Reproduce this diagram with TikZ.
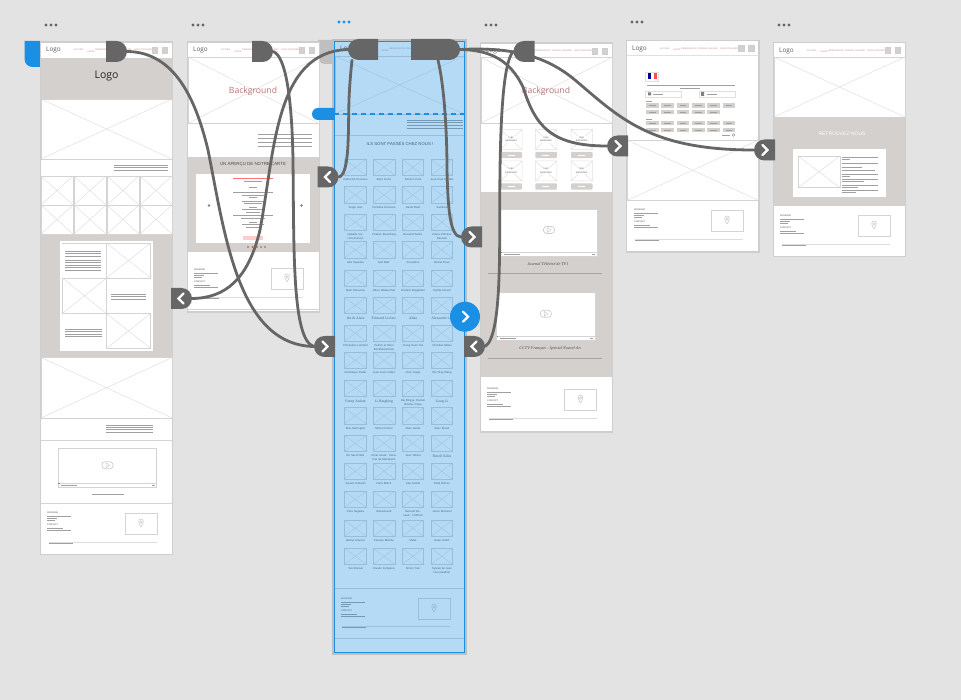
\documentclass[tikz,border=0pt]{standalone}
\usepackage{fontspec}
\setmainfont{Liberation Sans}
\newfontfamily\serf{Liberation Serif}
\newfontfamily\logof{Open Sans}
\usetikzlibrary{shapes.misc,calc}
\definecolor{bgc}{HTML}{E3E3E3}
\definecolor{bord}{HTML}{CECECE}
\definecolor{xc}{HTML}{D4D4D4}
\definecolor{sect}{HTML}{D3D0CD}
\definecolor{diag}{HTML}{E0E0E0}
\definecolor{hgray}{HTML}{666666}
\definecolor{sel}{HTML}{1A8FE3}
\definecolor{navc}{HTML}{C08A8A}
\definecolor{redt}{HTML}{B57474}
\definecolor{greekc}{HTML}{A0A0A0}
\tikzset{
  xl/.style={draw=xc,line width=.6pt},
  dl/.style={draw=diag,line width=.5pt},
  frameb/.style={fill=white,draw=bord,line width=1.5pt},
  handleR/.style={rounded rectangle,rounded rectangle left arc=none,fill=hgray,inner sep=0pt,minimum height=21pt,minimum width=#1},
  handleR/.default=19pt,
  handleL/.style={rounded rectangle,rounded rectangle right arc=none,fill=hgray,inner sep=0pt,minimum height=21pt,minimum width=#1},
  handleL/.default=19pt,
  conn/.style={draw=hgray,line width=2.8pt,line cap=round},
  chev/.style={draw=white,line width=2.2pt,line cap=round,line join=miter},
  grk/.style={draw=greekc,line width=.4pt},
  nm/.style={font=\fontsize{2.8}{3.4}\selectfont,text=black!65,align=center,text width=27pt,inner sep=0pt,anchor=north},
  navt/.style={font=\fontsize{2.2}{2.5}\selectfont,text=navc,inner sep=0pt,anchor=west},
  tinyt/.style={font=\fontsize{2.3}{2.6}\selectfont,text=black!70,inner sep=0pt,anchor=west}
}
% cross box
\newcommand{\xb}[4]{\draw[dl] (#1,#2)--(#3,#4) (#1,#4)--(#3,#2);\draw[xl] (#1,#2) rectangle (#3,#4);}
% greeked paragraph: x, y, width, lines, step
\newcommand{\grp}[5]{\foreach \gi in {1,...,#4}{\draw[grk] (#1,{#2+(\gi-1)*#5})--++(#3,0);}}
\newcommand{\tdots}[3]{\foreach \di in {-5,0,5}{\fill[#3] ({#1+\di},#2) circle (1.7pt);}}
% header: L R top bottom
\newcommand{\hdr}[4]{%
  \node[font=\logof\fontsize{6.4}{7}\selectfont,text=black!65,inner sep=0pt,anchor=west] at ({#1+5},{#3+8}) {Logo};
  \node[navt] at ({#1+33},{#3+8}) {ACCUEIL};
  \node[navt] at ({#1+46},{#3+9.5}) {CARTE};
  \node[navt] at ({#1+54},{#3+8}) {RÉSERVATION};
  \node[navt] at ({#1+71},{#3+8}) {PRESSE};
  \node[navt] at ({#1+81},{#3+8}) {GALERIE};
  \node[navt] at ({#1+93},{#3+8}) {NOUS TROUVER};
  \fill[sect,draw=bord,line width=.4pt] ({#2-20},{#3+5}) rectangle ({#2-14.5},{#3+11});
  \fill[sect,draw=bord,line width=.4pt] ({#2-10},{#3+5}) rectangle ({#2-4.5},{#3+11});
  \draw[draw=diag,line width=.8pt] (#1,#4)--(#2,#4);
}
% footer: addr x, addr y, map x, map y, line x, line y
\newcommand{\ftr}[6]{%
  \node[tinyt] at (#1,#2) {ADRESSE};
  \grp{#1}{#2+3}{24}{1}{0}\grp{#1}{#2+5.5}{10}{1}{0}\grp{#1}{#2+7.5}{8}{1}{0}
  \node[tinyt] at (#1,{#2+12}) {CONTACT};
  \grp{#1}{#2+15}{16}{1}{0}\grp{#1}{#2+17.5}{24}{1}{0}
  \draw[xl] (#3,#4) rectangle ({#3+32},{#4+21});
  \draw[draw=bord,line width=.6pt] ({#3+16},{#4+14}) .. controls ({#3+13},{#4+10}) and ({#3+13},{#4+6}) .. ({#3+16},{#4+6}) .. controls ({#3+19},{#4+6}) and ({#3+19},{#4+10}) .. ({#3+16},{#4+14});
  \draw[draw=bord,line width=.5pt] ({#3+16},{#4+9}) circle (1.2pt);
  \draw[draw=bord!70,line width=.9pt] (#5,#6)--++(108,0);
  \draw[greekc,line width=.3pt] (#5,{#6+1.6})--++(24,0);
}
% video: x1 y1 x2 y2
\newcommand{\vid}[4]{%
  \draw[fill=white,draw=xc,line width=.6pt] (#1,#2) rectangle (#3,#4);
  \draw[draw=xc,line width=.5pt] (#1,{#4-4})--(#3,{#4-4});
  \fill[red!70] (#1,{#4-4}) rectangle ({#1+1.2},{#4-3});
  \grp{#1+3}{#4-2}{16}{1}{0}
  \draw[grk] ({#3-5},{#4-2})--({#3-2},{#4-2});
  \draw[draw=bord,line width=.7pt,rounded corners=3pt] ({(#1+#3)/2-5.5},{(#2+#4)/2-6}) rectangle ({(#1+#3)/2+5.5},{(#2+#4)/2+1});
  \draw[draw=bord,line width=.5pt] ({(#1+#3)/2-1.5},{(#2+#4)/2-5}) -- ({(#1+#3)/2+2},{(#2+#4)/2-2.5}) -- ({(#1+#3)/2-1.5},{(#2+#4)/2}) -- cycle;
}
% grid row of frame 3
\newcommand{\grow}[5]{%
  \xb{344}{#1}{366.5}{#1+16.5}\xb{373}{#1}{395}{#1+16.5}\xb{402}{#1}{423.5}{#1+16.5}\xb{431}{#1}{452.5}{#1+16.5}
  \node[nm] at (355.5,{#1+19.5}) {#2};
  \node[nm] at (384,{#1+19.5}) {#3};
  \node[nm] at (413,{#1+19.5}) {#4};
  \node[nm] at (442,{#1+19.5}) {#5};
}
\newcommand{\srf}{\serf\fontsize{3.7}{4.2}\selectfont}
\newcommand{\chevR}[1]{\draw[chev] ([shift={(-2,-5)}]#1.center)--([shift={(3,0)}]#1.center)--([shift={(-2,5)}]#1.center);}
\newcommand{\chevL}[1]{\draw[chev] ([shift={(2,-5)}]#1.center)--([shift={(-3,0)}]#1.center)--([shift={(2,5)}]#1.center);}
\begin{document}
\begin{tikzpicture}[x=1pt,y=-1pt]
\useasboundingbox (0,0) rectangle (961,700);
\fill[bgc] (0,0) rectangle (961,700);
% three-dot menus
\tdots{51}{25}{black!60}\tdots{198}{25}{black!60}\tdots{344}{22}{sel}\tdots{491}{25}{black!60}\tdots{637}{22}{black!60}\tdots{784}{25}{black!60}
% tabs
\fill[sel] (40,41) -- (24.5,41) [rounded corners=8pt] -- (24.5,67) [sharp corners] -- (40,67) -- cycle;
\fill[black!25] (334,40) -- (318,40) [rounded corners=7pt] -- (318,64) [sharp corners] -- (334,64) -- cycle;

% ===== FRAME 1 =====
\draw[frameb] (40.5,42) rectangle (172.5,554.5);
\hdr{41}{172}{42}{58}
\fill[sect] (41,58) rectangle (172,99);
\node[font=\logof\fontsize{10.5}{12}\selectfont,text=black!85,inner sep=0pt] at (106.5,76) {Logo};
\xb{41}{99}{172}{159}
\grp{114}{165}{54}{3}{2.6}
\foreach \cx in {41,74,107,140}{\xb{\cx}{176}{\cx+32}{205}\xb{\cx}{205}{\cx+32}{234}}
\fill[sect] (41,235) rectangle (172,357);
\fill[white] (60,241) rectangle (152.7,351);
\draw[xl] (62,243)--(106,243);
\xb{106.5}{243}{150.7}{278}\xb{62.5}{278}{106.5}{313.5}\xb{106.5}{313.5}{150.7}{348.5}
\grp{65}{251}{36}{3}{2.5}\grp{65}{260}{36}{5}{2.5}
\grp{111}{294}{35}{3}{2.5}
\grp{65}{329}{37}{4}{2.5}
\xb{41}{357.5}{172}{418}
\draw[xl] (41,440.5)--(172,440.5) (41,503.3)--(172,503.3);
\grp{106}{425}{47}{4}{2.3}
\vid{58.3}{448.3}{156.7}{487.3}
\grp{92}{494}{32}{1}{0}
\ftr{47}{513}{125}{513}{49}{542}

% ===== FRAME 2 =====
\draw[frameb] (187.5,42) rectangle (319.5,312);
\hdr{188}{319}{42}{57}
\xb{188}{57}{319}{123.5}
\node[font=\logof\fontsize{8.6}{10}\selectfont,text=redt,inner sep=0pt] at (253,91) {Background};
\grp{258}{134}{54}{4}{4}
\fill[sect] (188,157.5) rectangle (319,251.7);
\node[font=\fontsize{4.4}{5}\selectfont,text=black!70,inner sep=0pt] at (253,164.5) {UN APERÇU DE NOTRE CARTE};
\fill[white] (196,174.5) rectangle (310,243.3);
\draw[red!55,line width=.9pt] (233,178)--(273,178);
\draw[grk] (244,181)--(262,181);
\foreach \yy/\ww in {187.5/8,192/40,195/22,197.5/8,201/22,203.5/18,207/8,209.5/22,212/14,215/40,218/24,222/8,224.5/22,227/14}{\draw[grk] ({253-\ww/2},\yy)--({253+\ww/2},\yy);}
\fill[red!20] (243,236) rectangle (263,240);
\fill[black!50] (209,205.5) circle (1.4pt) (301.5,205.5) circle (1.4pt);
\foreach \dx in {248,252.5,257,261,265}{\fill[orange!70!black] (\dx,247) circle (.9pt);}
\draw[xl] (188,309)--(319,309);
\ftr{194}{270}{271}{268}{195}{297}

% ===== FRAME 3 =====
\draw[draw=black!25,line width=2.5pt] (333.5,40.5) rectangle (465.5,653.5);
\fill[white] (334,41) rectangle (465,653);
\hdr{335}{464}{41}{56}
\xb{335}{56}{464}{114}
\grp{407}{120}{56}{4}{2.7}
\draw[xl] (335,135)--(464,135) (335,588)--(464,588) (335,638)--(464,638);
\node[font=\fontsize{4.3}{5}\selectfont,text=black!70,inner sep=0pt] at (400,144) {ILS SONT PASSÉS CHEZ NOUS !};
\grow{159}{Catherine Deneuve}{Alain Fuchs}{Dorsten Park}{Jean-Paul Gaultier}
\grow{186.7}{Serge Ioan}{Christine Deneuve}{David Bowl}{Sandrine}
\grow{214}{Isabelle Sorcière Darcon}{Charles Bruenberg}{Bernard Sachs}{Pierre d'Orsine Dauzats}
\grow{241.7}{Ada Hayeska}{Neil Blair}{Snoopdoo}{Michel Roux}
\grow{270}{Alain Delourme}{Olivia Sibida Platt}{Frédéric Beigbeder}{Sophie Duvert}
\grow{297}{\srf Jen \& Alain}{\srf Édouard Leclerc}{\srf Alika}{\srf Alexandre Lot}
\grow{325}{Christophe Lambert}{Patrick et Rémi Bosshard-Rubin}{Young Seon Tae}{Christian Millau}
\grow{352}{Dominique Rodar}{Jean-Louis Debré}{Chen Kaige}{Wu Tiing Wang}
\grow{380}{\srf Fanny Ardant}{\srf Li Bingbing}{Hai Bingya, Roman Binsha, Paiya}{\srf Gong Li}
\grow{407.7}{Elsa Harrington}{Michel Cohen}{Alain Sarde}{Marc Borrel}
\grow{435}{Bo Sand Nani}{Omar Assaf - Sénateur de Marrakech}{Jean Teboul}{\srf Benoît Solès}
\grow{463}{Sylvain Hamelin}{Paris Match}{Lika Sorbet}{Pedit Brimec}
\grow{491}{Para Sagasta}{Bahamsund}{Bernard Renaud - L'Officiel}{Jason Bertrand}
\grow{520}{Michel Ameriot}{Pascale Bibiche}{Mutto}{Beau Smith}
\grow{548}{Yani Bisrael}{Claude Komjakov}{Simon Yam}{Sylvain de Jean Huu-Gauthier}
\ftr{341}{599}{418}{598}{342}{626}
\fill[sel,opacity=.32] (334,41) rectangle (465,653);
\draw[sel,line width=1.8pt] (334.5,41.5) rectangle (464.5,652.5);
\draw[sel,line width=1.3pt,dash pattern=on 5pt off 4pt] (334,114)--(465,114);

% ===== FRAME 4 =====
\draw[frameb] (480.5,43) rectangle (612.5,432);
\hdr{481}{612}{43}{57.5}
\xb{481}{57.5}{612}{123}
\node[font=\logof\fontsize{8.6}{10}\selectfont,text=redt,inner sep=0pt] at (546,91) {Background};
\foreach \cx in {500.5,535.3,571}{
  \foreach \cy in {129.5,161}{
    \draw[dl] (\cx,\cy) rectangle (\cx+21.5,\cy+20) (\cx,\cy)--(\cx+21.5,\cy+20) (\cx,\cy+20)--(\cx+21.5,\cy);
    \node[font=\fontsize{2.6}{3.4}\selectfont,text=black!60,align=center,inner sep=.4pt,fill=white] at (\cx+10.7,\cy+10) {logo\\partenaire};
    \fill[sect,rounded corners=1pt] (\cx,\cy+22.3) rectangle (\cx+21.5,\cy+28.6);
    \draw[white,line width=.7pt] (\cx+7,\cy+25.4)--(\cx+14,\cy+25.4);
  }
}
\fill[sect] (481,191.7) rectangle (612,376.7);
\vid{500.7}{209}{597.3}{256}
\node[font=\serf\itshape\fontsize{4.2}{5}\selectfont,text=black!70,inner sep=0pt] at (548,264.5) {Journal Télévisé de TF1};
\draw[black!35,line width=.7pt] (488,273.3)--(602,273.3);
\vid{496.7}{292.7}{595}{340}
\node[font=\serf\itshape\fontsize{4.2}{5}\selectfont,text=black!70,inner sep=0pt] at (550,348.5) {CCTV Français - Spécial Nouvel An};
\draw[black!35,line width=.7pt] (488,358.3)--(602,358.3);
\ftr{487}{389}{564.5}{389}{489}{418}

% ===== FRAME 5 =====
\draw[frameb] (626.5,40.5) rectangle (759,252);
\hdr{627}{758.5}{40.5}{55}
\draw[dl] (645,72) rectangle (658,81);
\fill[blue!60!black] (648,73.5) rectangle (651,79.5);
\fill[white] (651,73.5) rectangle (654,79.5);
\fill[red!70] (654,73.5) rectangle (657,79.5);
\grp{647}{85}{88}{1}{0}\grp{680}{88}{20}{1}{0}
\draw[dl] (645.5,91) rectangle (681.5,97);
\draw[dl] (699,91) rectangle (735,97);
\grp{653}{94}{10}{1}{0}\grp{707}{94}{10}{1}{0}
\fill[black!50] (648,92.5) rectangle (651,95.5) (701,92) rectangle (704,96);
\grp{646}{101}{6}{1}{0}\grp{646}{119}{6}{1}{0}
\foreach \cx in {646,661.3,676.7,692,707.3,722.7}{
  \fill[sect] (\cx,103.3) rectangle (\cx+12.7,107.7);
  \fill[sect] (\cx,121) rectangle (\cx+12.7,125.4);
  \fill[sect] (\cx,127.8) rectangle (\cx+12.7,132.2);
  \draw[greekc,line width=.35pt] (\cx+3,105.5)--(\cx+9.5,105.5) (\cx+3,123.2)--(\cx+9.5,123.2) (\cx+3,130)--(\cx+9.5,130);
}
\foreach \cx in {646,661.3,676.7,692,707.3}{
  \fill[sect] (\cx,110) rectangle (\cx+12.7,114.4);
  \draw[greekc,line width=.35pt] (\cx+3,112.2)--(\cx+9.5,112.2);
}
\grp{722}{135}{8}{1}{0}
\draw[black!50,line width=.4pt] (733.5,135) circle (1.4pt);
\xb{627}{140}{758.5}{200.5}
\ftr{634}{210}{711}{210}{635}{239}

% ===== FRAME 6 =====
\draw[frameb] (773.5,42.5) rectangle (905.5,256.5);
\hdr{774}{905}{42.5}{57}
\xb{774}{57}{905}{117}
\fill[sect] (774,117) rectangle (905,205.7);
\node[font=\fontsize{5}{6}\selectfont,text=white,inner sep=0pt] at (842,134) {RETROUVEZ-NOUS};
\fill[white] (792.7,149) rectangle (886,197);
\xb{798}{156}{840}{187.7}
\foreach \yy/\ww in {157/36,159.5/8,163/36,167/20,170.5/33,174/36,176.5/8,179/36,181.5/22,185/36,187.5/16,190/36,192.5/14}{\draw[grk,line width=.35pt] (842,\yy)--++(\ww,0);}
\ftr{780}{216}{858}{215}{782}{244}

% ===== CONNECTOR HANDLES =====
\node[handleR] (h1) at (116.5,51.5) {};
\node[handleR] (h2) at (262.5,51.5) {};
\node[handleL=30pt] (h3) at (363,49.5) {};
\node[handleR=49pt] (h4) at (435.5,49.5) {};
\node[handleL] (h5) at (524,51.5) {};
\node[handleR] (s1) at (181.5,298.5) {};
\node[handleL] (s2) at (324.5,346.5) {};
\node[handleR] (s3) at (328,177) {};
\node[handleL] (s4) at (471.5,237) {};
\node[handleR] (s5) at (474.5,346.5) {};
\node[handleL] (s6) at (617.5,146) {};
\node[handleL] (s7) at (764.5,150) {};
\node[fill=sel,circle,inner sep=0pt,minimum size=30pt] (big) at (465,316.7) {};
\node[rounded rectangle,rounded rectangle right arc=none,fill=sel,inner sep=0pt,minimum height=12pt,minimum width=22pt] (t3) at (323,114) {};

% ===== CONNECTORS =====
\draw[conn] (h1.east) .. controls (175,52) and (196,100) .. (208,150) .. controls (225,235) and (238,345) .. (s2.west);
\draw[conn] (h2.east) .. controls (286,56) and (292,100) .. (293,160) .. controls (294,250) and (292,340) .. (s2.west);
\draw[conn] (s1.east) .. controls (225,298) and (248,280) .. (260,230) .. controls (275,150) and (275,52) .. (h3.west);
\draw[conn] (s3.east) .. controls (350,175) and (348,130) .. (349,100) .. controls (349.5,85) and (351,70) .. ([xshift=-11pt]h3.south);
\draw[conn] ([xshift=2.5pt]h4.south) .. controls (444,85) and (447,130) .. (447,170) .. controls (448,210) and (450,236) .. (s4.west);
\draw[conn] (h4.east) .. controls (490,50) and (510,60) .. (523,87) .. controls (535,125) and (550,146) .. (s6.west);
\draw[conn] (h4.east) .. controls (510,47) and (545,55) .. (575,80) .. controls (620,118) and (650,150) .. (s7.west);
\draw[conn] (h5.west) .. controls (505,60) and (501,100) .. (500,170) .. controls (499,240) and (503,335) .. (s5.east);
\chevL{s1}\chevR{s2}\chevL{s3}\chevR{s4}\chevL{s5}\chevR{s6}\chevR{s7}\chevR{big}
\end{tikzpicture}
\end{document}
